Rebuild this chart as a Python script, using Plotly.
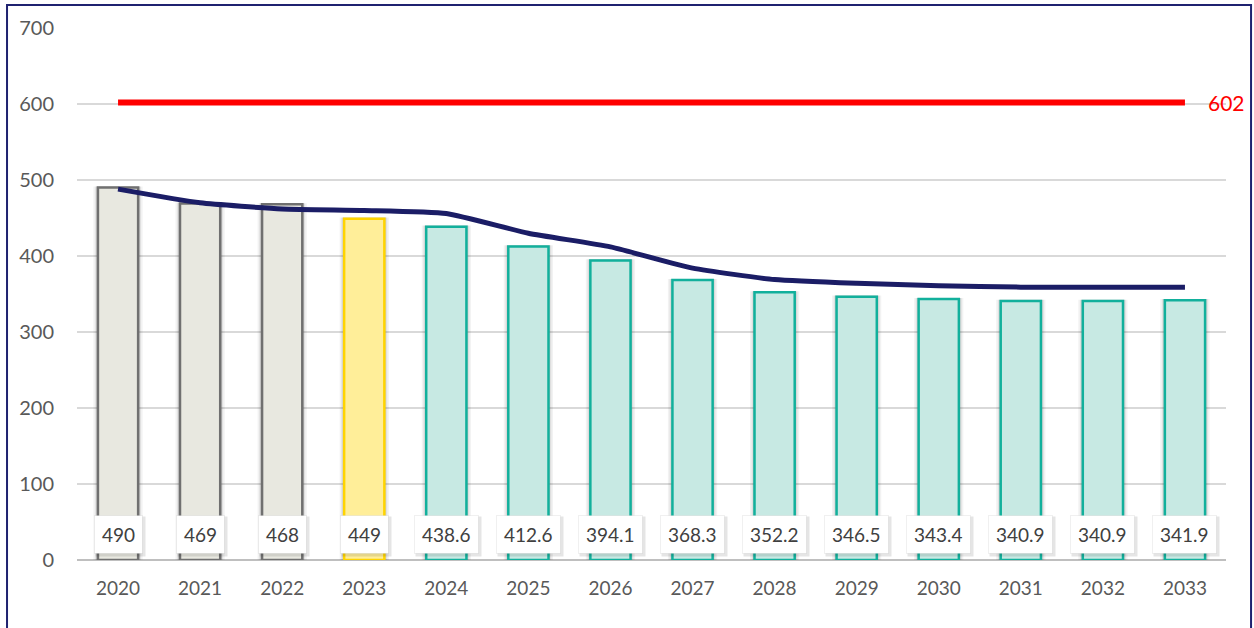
import plotly.graph_objects as go

# Yearly figures
years = ["2020", "2021", "2022", "2023", "2024", "2025", "2026",
         "2027", "2028", "2029", "2030", "2031", "2032", "2033"]
bar_values = [490, 469, 468, 449, 438.6, 412.6, 394.1,
              368.3, 352.2, 346.5, 343.4, 340.9, 340.9, 341.9]
bar_labels = ["490", "469", "468", "449", "438.6", "412.6", "394.1",
              "368.3", "352.2", "346.5", "343.4", "340.9", "340.9", "341.9"]
trend_values = [488, 470, 462, 460, 456, 430, 412,
                384, 369, 364, 361, 359, 359, 359]
limit_value = 602
limit_values = [limit_value] * len(years)

# Styling per period: actuals, current year, projections
fill_colors = ["#E8E8E0"] * 3 + ["#FFEE99"] + ["#C7E9E3"] * 10
edge_colors = ["#707070"] * 3 + ["#FFD400"] + ["#12B09C"] * 10

FONT = "Lato"
fig = go.Figure()

# soft drop shadow behind the columns
for w, a in [(0.60, 0.05), (0.56, 0.07), (0.53, 0.08)]:
    fig.add_trace(go.Bar(
        x=years, y=[v + 1.5 for v in bar_values], width=w,
        marker=dict(color=f"rgba(0,0,0,{a})", line=dict(width=0)),
        hoverinfo="skip", showlegend=False,
    ))

fig.add_trace(go.Bar(
    x=years, y=bar_values, width=0.49,
    marker=dict(color=fill_colors, line=dict(color=edge_colors, width=2.5)),
    showlegend=False,
))

fig.add_trace(go.Scatter(
    x=years, y=trend_values, mode="lines",
    line=dict(color="#1B1D66", width=5, shape="spline", smoothing=0.5),
    showlegend=False,
))

fig.add_trace(go.Scatter(
    x=years, y=limit_values, mode="lines",
    line=dict(color="#FF0000", width=6),
    showlegend=False,
))

annotations = []
# value boxes near the base of each column (shadow + box);
# category positions are given by index on the category axis
for i, lab in enumerate(bar_labels):
    annotations.append(dict(
        x=i, y=33.5, xref="x", yref="y", text=lab, showarrow=False,
        font=dict(family=FONT, size=19, color="rgba(0,0,0,0)"),
        bgcolor="rgba(0,0,0,0.10)", borderpad=8, xshift=2, yshift=-2,
    ))
    annotations.append(dict(
        x=i, y=33.5, xref="x", yref="y", text=lab, showarrow=False,
        font=dict(family=FONT, size=19, color="#404040"),
        bgcolor="white", bordercolor="rgba(0,0,0,0.06)", borderwidth=1,
        borderpad=7,
    ))

annotations.append(dict(
    x=len(years) - 1, y=limit_value, xref="x", yref="y",
    text=str(limit_value), showarrow=False,
    xanchor="left", xshift=21,
    font=dict(family=FONT, size=21, color="#FF0000"),
))

fig.update_layout(
    width=1254, height=628,
    margin=dict(l=77, r=28, t=28, b=68),
    paper_bgcolor="white", plot_bgcolor="white",
    barmode="overlay", bargap=0.5,
    annotations=annotations,
    shapes=[dict(
        type="rect", xref="paper", yref="paper",
        x0=-0.0609, x1=1.0218, y0=-0.14, y1=1.043,
        line=dict(color="#1F2270", width=2), layer="above",
    )],
)

fig.update_xaxes(
    type="category", range=[-0.5, 13.5],
    showgrid=False, showline=False, zeroline=False,
    tickfont=dict(family=FONT, size=19, color="#595959"),
    ticks="", ticklabelstandoff=15,
)
fig.update_yaxes(
    range=[0, 700], dtick=100,
    showgrid=True, gridcolor="#D9D9D9", gridwidth=1.5,
    zeroline=True, zerolinecolor="#BFBFBF", zerolinewidth=1.5,
    showline=False,
    tickfont=dict(family=FONT, size=20, color="#595959"),
    ticks="", ticklabelstandoff=22,
)

fig.write_html("out.html")
